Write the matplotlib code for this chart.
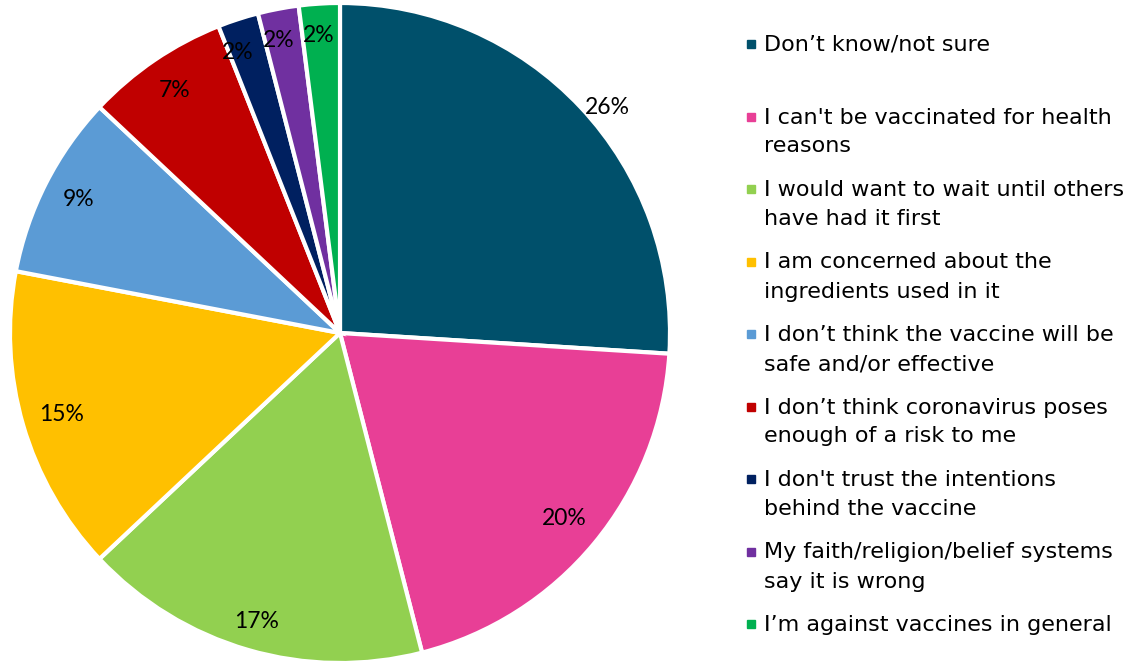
import numpy as np
import matplotlib.pyplot as plt

labels = ["Don\u2019t know/not sure",
          "I can't be vaccinated for health\nreasons",
          "I would want to wait until others\nhave had it first",
          "I am concerned about the\ningredients used in it",
          "I don\u2019t think the vaccine will be\nsafe and/or effective",
          "I don\u2019t think coronavirus poses\nenough of a risk to me",
          "I don't trust the intentions\nbehind the vaccine",
          "My faith/religion/belief systems\nsay it is wrong",
          "I\u2019m against vaccines in general"]
values = [26, 20, 17, 15, 9, 7, 2, 2, 2]
colors = ["#00506B", "#E83F96", "#92D050", "#FFC000", "#5B9BD5",
          "#C00000", "#002060", "#7030A0", "#00B050"]

W, H = 1144, 662
fig = plt.figure(figsize=(W / 100, H / 100), dpi=100)

# pie centred at (340, 333) px with radius 330 px
cx, cy, r = 340, 333, 330
ax = fig.add_axes([(cx - r) / W, (H - cy - r) / H, 2 * r / W, 2 * r / H])
wedges, _ = ax.pie(values, colors=colors, startangle=90, counterclock=False,
                   wedgeprops=dict(edgecolor="white", linewidth=3))
ax.set_xlim(-1, 1)
ax.set_ylim(-1, 1)
ax.set_aspect("equal")

# percentage labels (radius, angle nudge in degrees); the first sits outside
dists = [1.06, 0.88, 0.91, 0.88, 0.89, 0.89, 0.905, 0.905, 0.905]
nudges = [-3, 0, 0, 0, 0, 0, 2, 1, 0.5]
for w, v, d, n in zip(wedges, values, dists, nudges):
    ang = np.deg2rad((w.theta1 + w.theta2) / 2 + n)
    ax.text(d * np.cos(ang), d * np.sin(ang), f"{v}%", ha="center", va="center",
            fontsize=16.5, family="Lato", color="black")

# legend drawn by hand, one text per wrapped line
y0, step, line_gap = 44, 72.5, 29
for i, (lab, c) in enumerate(zip(labels, colors)):
    y = y0 + i * step
    fig.patches.append(plt.Rectangle((747 / W, 1 - (y + 4) / H), 8 / W, 8 / H,
                                     transform=fig.transFigure, color=c, figure=fig))
    for k, line in enumerate(lab.split("\n")):
        fig.text(764 / W, 1 - (y + 7 + k * line_gap) / H, line, ha="left",
                 va="baseline", fontsize=16, family="DejaVu Sans", color="black")

fig.savefig("out.png", dpi=100)
